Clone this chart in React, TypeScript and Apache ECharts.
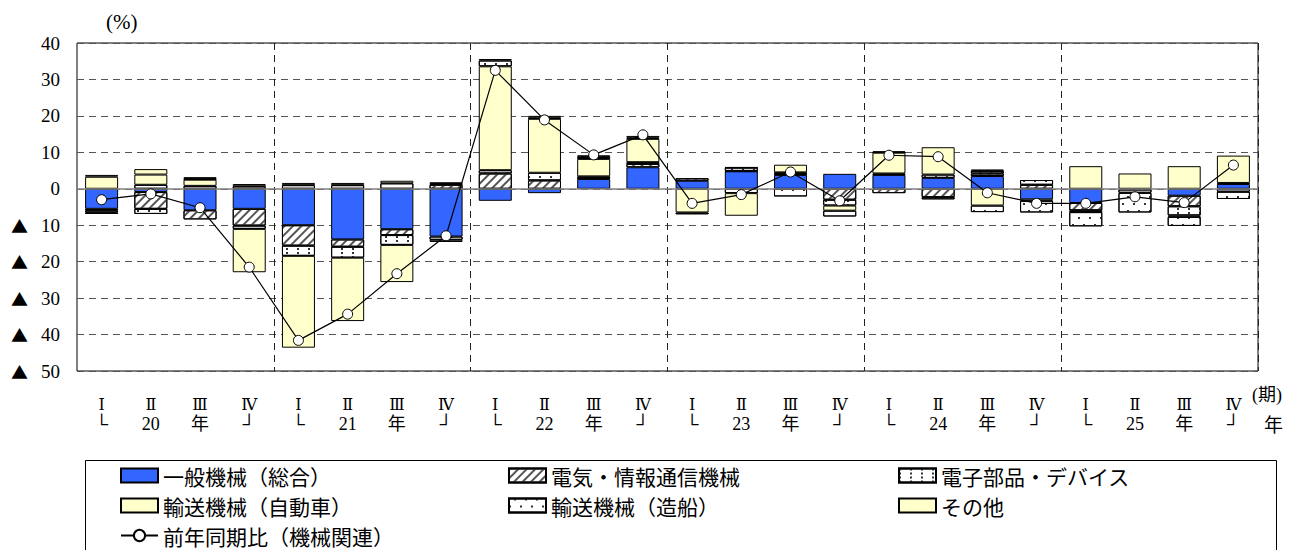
import React, { useEffect, useRef } from "react";
import * as echarts from "echarts";

// Quarter labels and year markers for the category axis
const quarters = ["Ⅰ", "Ⅱ", "Ⅲ", "Ⅳ"];
const years = ["20", "21", "22", "23", "24", "25"];

// Contribution to year-on-year change (percentage points), 2020 Q1 .. 2025 Q4
const general = [-5.5, -0.9, -5.9, -5.5, -10.0, -13.9, -11.1, -13.1, -3.3, -1.2, 2.7, 5.9, 2.2, 4.8, 3.8, 4.1, 3.8, 3.0, 3.5, -2.9, -3.9, -0.2, -1.9, 1.3];
const electric = [-0.4, -4.6, -2.5, -4.6, -5.6, -2.0, -1.6, 1.1, 4.2, 2.3, 0.2, 0.9, 0.7, 0.1, 0.3, -3.0, -1.2, -2.3, 0.7, 1.1, -2.0, null, -2.9, 0.3];
const parts = [-0.6, 1.1, 0.8, -0.9, -2.8, -3.0, -2.7, -0.9, 0.9, 2.1, 0.5, 0.5, null, -1.2, 0.4, -1.6, 0.4, 0.9, 0.7, 1.3, -0.5, -0.9, -2.5, -0.8];
const autos = [3.3, 2.8, 1.7, -11.9, -25.2, -17.4, -10.2, -0.6, 28.5, 14.8, 4.8, 6.4, -6.5, -6.2, 2.1, -1.4, 5.7, 7.5, -4.6, -0.4, 6.2, 4.2, -0.4, 7.5];
const ships = [-0.4, -1.4, 0.2, 0.7, 1.0, 1.0, 1.5, 0.2, 1.6, 0.3, 0.5, 0.3, -0.5, 0.9, -2.1, -1.6, 0.1, -0.6, -1.8, -3.2, -3.9, -5.4, -2.5, -2.0];
const others = [0.5, 1.5, 0.5, 0.6, 0.6, 0.6, 0.7, 0.5, 0.4, 0.5, 0.5, 0.5, null, 0.1, null, null, 0.3, null, 0.4, null, null, null, 6.2, null];
// Year-on-year change of machinery-related total (%)
const total = [-3.0, -1.4, -5.2, -21.5, -41.6, -34.4, -23.3, -12.9, 32.5, 18.9, 9.3, 14.8, -4.0, -1.6, 4.6, -3.3, 9.2, 8.8, -1.1, -4.0, -4.0, -2.2, -3.8, 6.5];

const yTicks = { min: -50, max: 40, step: 10 };

const names = {
  general: "一般機械（総合）",
  electric: "電気・情報通信機械",
  parts: "電子部品・デバイス",
  autos: "輸送機械（自動車）",
  ships: "輸送機械（造船）",
  others: "その他",
  total: "前年同期比（機械関連）",
};

const categories: string[] = [];
years.forEach((y) => {
  const second = ["└", y, "年", "┘"];
  quarters.forEach((q, i) => categories.push(`${q}\n${second[i]}`));
});

const SERIF = "'Liberation Serif', 'DejaVu Serif', 'Noto Sans CJK JP', serif";
const ROMAN = "'DejaVu Serif', 'Noto Sans CJK JP', serif";
const JP = "'Noto Sans CJK JP', sans-serif";

const BLUE = "#3366ff";
const YELLOW = "#ffffcc";

const hatch = {
  symbol: "rect",
  symbolSize: 1,
  color: "#555",
  backgroundColor: "#ffffff",
  dashArrayX: [1, 0],
  dashArrayY: [1.5, 3.5],
  rotation: -Math.PI / 4,
};
const dottedLines = {
  symbol: "rect",
  symbolSize: 1,
  color: "#333",
  backgroundColor: "#ffffff",
  dashArrayX: [1.2, 9],
  dashArrayY: [1.2, 2],
};
const dots = {
  symbol: "rect",
  symbolSize: 1,
  color: "#333",
  backgroundColor: "#ffffff",
  dashArrayX: [[1.5, 8.5], [0, 5, 1.5, 3.5]],
  dashArrayY: [1.5, 4.5],
};

function barSeries(name: string, data: (number | null)[], color: string, decal?: any, extra?: any) {
  return {
    name,
    type: "bar",
    stack: "contrib",
    barWidth: 33,
    data,
    itemStyle: {
      color,
      borderColor: "#000",
      borderWidth: 1,
      ...(decal ? { decal } : {}),
    },
    ...(extra || {}),
  };
}

// legend entries: bars get a plain rectangle, the line keeps its line-with-marker icon
const barItem = (name: string) => ({ name, icon: "rect" });

export default function App() {
  const ref = useRef<HTMLDivElement>(null);

  useEffect(() => {
    if (!ref.current) return;
    const chart = echarts.init(ref.current, null, { renderer: "svg" });

    const legendBase = {
      orient: "vertical",
      top: 465,
      padding: 0,
      itemWidth: 37,
      itemHeight: 14,
      itemGap: 9,
      textStyle: { fontSize: 21, fontFamily: JP, color: "#000", lineHeight: 21 },
    };

    chart.setOption({
      animation: false,
      backgroundColor: "#fff",
      grid: {
        left: 77,
        right: 34,
        top: 43,
        bottom: 179,
        show: true,
        borderColor: "#000",
        borderWidth: 1,
      },
      xAxis: {
        type: "category",
        data: categories,
        axisLine: { show: false },
        axisTick: { show: false },
        axisLabel: {
          interval: 0,
          margin: 24,
          fontSize: 18,
          lineHeight: 20,
          color: "#000",
          fontFamily: SERIF,
          formatter: (v: string) => {
            const [q, s] = v.split("\n");
            return `{r|${q}}\n{s|${s}}`;
          },
          rich: {
            r: { fontSize: 16, fontFamily: ROMAN, color: "#000", lineHeight: 19 },
            s: { fontSize: 18, fontFamily: SERIF, color: "#000", lineHeight: 19 },
          },
        },
        splitLine: {
          show: true,
          interval: (i: number) => i > 0 && i % 4 === 0,
          lineStyle: { color: "#222", type: [7, 5], width: 1 },
        },
      },
      yAxis: {
        type: "value",
        min: yTicks.min,
        max: yTicks.max,
        interval: yTicks.step,
        axisLine: { show: false },
        axisTick: { show: false },
        splitLine: { lineStyle: { color: "#555", type: [7, 5], width: 1 } },
        axisLabel: {
          margin: 17,
          color: "#000",
          fontSize: 19,
          fontFamily: SERIF,
          formatter: (v: number) => (v < 0 ? `{t|▲}{n|${-v}}` : `{n|${v}}`),
          rich: {
            t: { fontSize: 17, fontFamily: JP, color: "#000", padding: [0, 13, 0, 0] },
            n: { fontSize: 19, fontFamily: SERIF, color: "#000" },
          },
        },
      },
      legend: [
        { ...legendBase, left: 120, data: [barItem(names.general), barItem(names.autos), { name: names.total }] },
        { ...legendBase, left: 508, data: [barItem(names.electric), barItem(names.ships)] },
        { ...legendBase, left: 898, data: [barItem(names.parts), barItem(names.others)] },
      ],
      graphic: [
        {
          type: "rect",
          shape: { x: 85.5, y: 460.5, width: 1191, height: 120 },
          style: { fill: "none", stroke: "#000", lineWidth: 1 },
          silent: true,
        },
        {
          type: "text",
          left: 106,
          top: 11,
          style: { text: "(%)", fontSize: 21, fontFamily: SERIF, fill: "#000" },
        },
        {
          type: "text",
          left: 1252,
          top: 386,
          style: { text: "(期)", fontSize: 18, fontFamily: SERIF, fill: "#000" },
        },
        {
          type: "text",
          left: 1264,
          top: 414,
          style: { text: "年", fontSize: 19, fontFamily: JP, fill: "#000" },
        },
      ],
      series: [
        barSeries(names.general, general, BLUE, undefined, {
          markLine: {
            silent: true,
            symbol: "none",
            label: { show: false },
            lineStyle: { color: "#808080", type: "solid", width: 1.5 },
            data: [{ yAxis: 0 }],
          },
        }),
        barSeries(names.electric, electric, "#fff", hatch),
        barSeries(names.parts, parts, "#fff", dottedLines),
        barSeries(names.autos, autos, YELLOW),
        barSeries(names.ships, ships, "#fff", dots),
        barSeries(names.others, others, YELLOW),
        {
          name: names.total,
          type: "line",
          data: total,
          z: 5,
          symbol: "circle",
          symbolSize: 10,
          lineStyle: { color: "#000", width: 1.2 },
          itemStyle: { color: "#fff", borderColor: "#000", borderWidth: 1 },
        },
      ],
    });

    return () => chart.dispose();
  }, []);

  return (
    <div
      ref={ref}
      style={{ position: "fixed", left: 0, top: 0, width: 1292, height: 550, background: "#fff" }}
    />
  );
}
